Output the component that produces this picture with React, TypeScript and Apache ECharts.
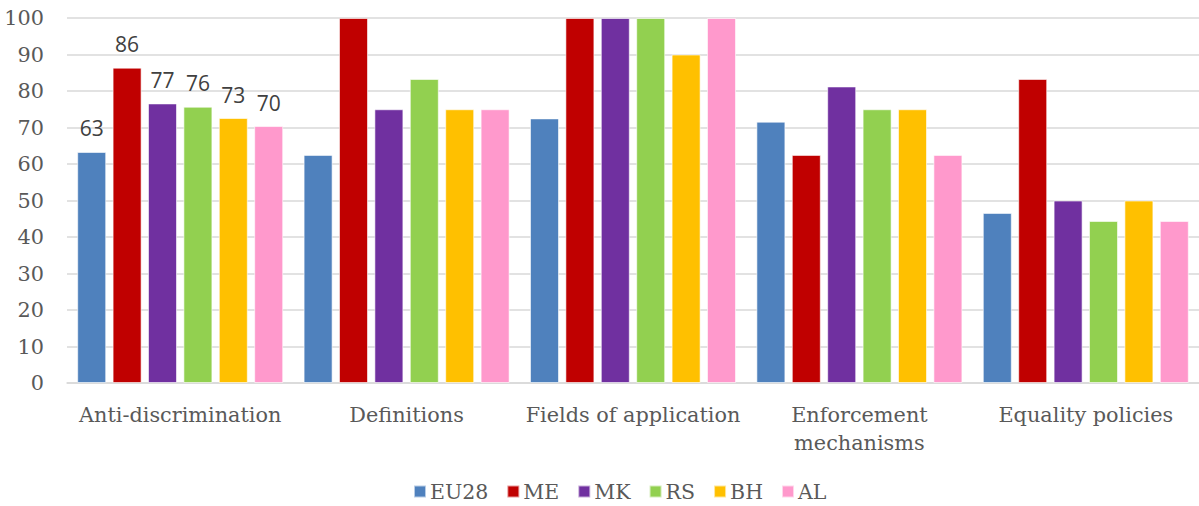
import React, { useEffect, useRef } from "react";
import * as echarts from "echarts";

const categories = [
  "Anti-discrimination",
  "Definitions",
  "Fields of application",
  "Enforcement\nmechanisms",
  "Equality policies",
];
const seriesNames = ["EU28", "ME", "MK", "RS", "BH", "AL"];
const colors = ["#4F81BD", "#C00000", "#7030A0", "#92D050", "#FFC000", "#FF99CC"];
const EU28 = [63.3, 62.5, 72.5, 71.6, 46.6];
const ME = [86.4, 100, 100, 62.5, 83.3];
const MK = [76.6, 75, 100, 81.25, 50];
const RS = [75.7, 83.3, 100, 75, 44.4];
const BH = [72.6, 75, 90, 75, 50];
const AL = [70.4, 75, 100, 62.5, 44.4];
const values = [EU28, ME, MK, RS, BH, AL];
const yTicks = { min: 0, max: 100, interval: 10 };

const SERIF = "DejaVu Serif";
const TEXT = "#595959";

export default function App() {
  const ref = useRef<HTMLDivElement>(null);
  useEffect(() => {
    if (!ref.current) return;
    const chart = echarts.init(ref.current, null, { renderer: "svg" });
    chart.setOption({
      animation: false,
      grid: { left: 67, right: 0, top: 18, bottom: 123, containLabel: false },
      legend: {
        data: seriesNames,
        bottom: -1,
        left: 408,
        itemWidth: 12,
        itemHeight: 12,
        itemGap: 18,
        icon: "rect",
        textStyle: { fontFamily: SERIF, fontSize: 20.5, color: TEXT, padding: [0, 0, 0, -1] },
      },
      xAxis: {
        type: "category",
        data: categories,
        axisLine: { lineStyle: { color: "#d9d9d9", width: 1.5 } },
        axisTick: { show: false },
        axisLabel: {
          fontFamily: SERIF,
          fontSize: 20.8,
          color: TEXT,
          margin: 18,
          lineHeight: 28,
          interval: 0,
        },
      },
      yAxis: {
        type: "value",
        min: yTicks.min,
        max: yTicks.max,
        interval: yTicks.interval,
        axisLine: { show: false },
        axisTick: { show: false },
        splitLine: { lineStyle: { color: "#d9d9d9", width: 1.5 } },
        axisLabel: { fontFamily: SERIF, fontSize: 20.8, color: TEXT, margin: 23 },
      },
      series: seriesNames.map((name, i) => ({
        name,
        type: "bar",
        data: values[i].map((v, j) =>
          j === 0
            ? {
                value: v,
                label: {
                  show: true,
                  position: "top",
                  distance: 13,
                  formatter: (p: any) => Math.round(p.value).toString(),
                  fontFamily: "Open Sans",
                  fontSize: 21,
                  color: "#404040",
                },
              }
            : v
        ),
        barGap: "22%",
        barCategoryGap: "9%",
        itemStyle: { color: colors[i], borderColor: "rgba(255,255,255,0.6)", borderWidth: 1 },
      })),
    });
    return () => chart.dispose();
  }, []);
  return (
    <div
      ref={ref}
      style={{ position: "fixed", left: 0, top: 0, width: 1199, height: 506, background: "#fff" }}
    />
  );
}
